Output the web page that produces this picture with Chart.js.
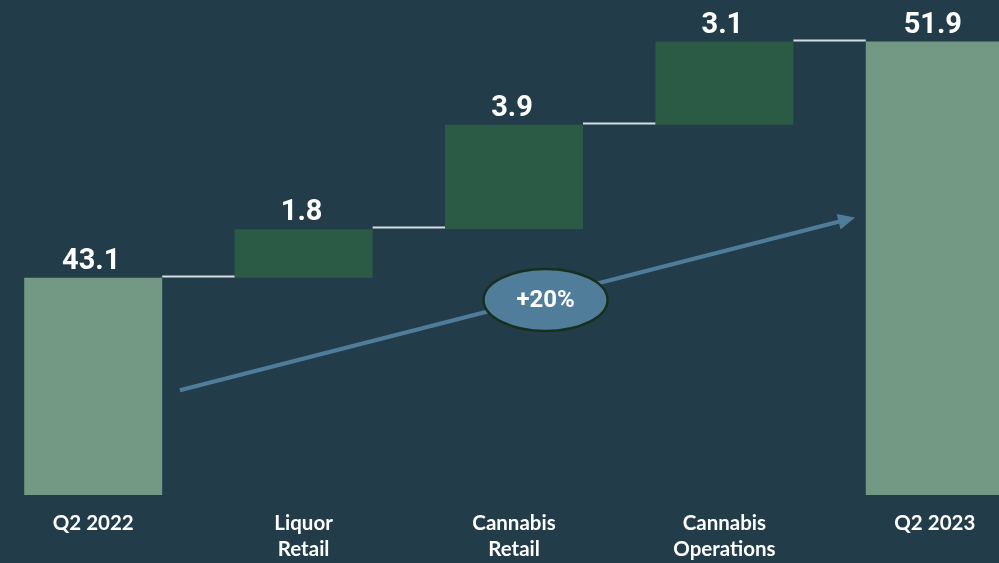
<!DOCTYPE html>
<html>
<head>
<meta charset="utf-8">
<script src="https://cdn.jsdelivr.net/npm/chart.js@4"></script>
<style>
  html, body { margin: 0; padding: 0; background: #233c4a; overflow: hidden; }
  #wrap { position: absolute; left: -12px; top: 0; width: 1052px; height: 577px; }
</style>
</head>
<body>
<div id="wrap"><canvas id="chart" width="1052" height="577"></canvas></div>
<script>
// Chart data
const categories = [['Q2 2022'], ['Liquor', 'Retail'], ['Cannabis', 'Retail'], ['Cannabis', 'Operations'], ['Q2 2023']];
const values = [43.1, 1.8, 3.9, 3.1, 51.9];
const isTotal = [true, false, false, false, true];
const valueLabels = ['43.1', '1.8', '3.9', '3.1', '51.9'];
const growthLabel = '+20%';
const axisMin = 35;
const axisMax = 53.45;

// build floating ranges for the waterfall
let running = 0;
const ranges = values.map((v, i) => {
    if (isTotal[i]) { running = v; return [axisMin, v]; }
    const r = [running, running + v];
    running += v;
    return r;
});

const TOTAL_COLOR = '#739884';
const STEP_COLOR = '#2b5a45';

const waterfallExtras = {
    id: 'waterfallExtras',
    afterDatasetsDraw(chart) {
        const ctx = chart.ctx;
        const x = chart.scales.x, y = chart.scales.y;
        const meta = chart.getDatasetMeta(0);

        // connector lines
        ctx.save();
        ctx.strokeStyle = '#d5dde0';
        ctx.lineWidth = 2;
        for (let i = 0; i < meta.data.length - 1; i++) {
            const a = meta.data[i], b = meta.data[i + 1];
            const py = Math.round(y.getPixelForValue(ranges[i][1])) - 1.5;
            ctx.beginPath();
            ctx.moveTo(a.x + a.width / 2, py);
            ctx.lineTo(b.x - b.width / 2, py);
            ctx.stroke();
        }
        ctx.restore();

        // value labels
        ctx.save();
        ctx.fillStyle = '#ffffff';
        ctx.font = 'bold 29px Roboto, "Liberation Sans", sans-serif';
        ctx.textAlign = 'center';
        ctx.textBaseline = 'alphabetic';
        meta.data.forEach((bar, i) => {
            const py = y.getPixelForValue(ranges[i][1]);
            ctx.fillText(valueLabels[i], bar.x - 2, py - 9);
        });
        ctx.restore();

        // growth arrow
        const x0 = x.getPixelForValue(0.412), y0 = y.getPixelForValue(38.9);
        const x1 = x.getPixelForValue(3.621), y1 = y.getPixelForValue(45.34);
        const ang = Math.atan2(y1 - y0, x1 - x0);
        ctx.save();
        ctx.strokeStyle = '#4f7c99';
        ctx.fillStyle = '#4f7c99';
        ctx.lineWidth = 4;
        ctx.beginPath();
        ctx.moveTo(x0, y0);
        ctx.lineTo(x1 - 12 * Math.cos(ang), y1 - 12 * Math.sin(ang));
        ctx.stroke();
        ctx.beginPath();
        ctx.moveTo(x1, y1);
        ctx.lineTo(x1 - 17 * Math.cos(ang) + 8 * Math.sin(ang), y1 - 17 * Math.sin(ang) - 8 * Math.cos(ang));
        ctx.lineTo(x1 - 17 * Math.cos(ang) - 8 * Math.sin(ang), y1 - 17 * Math.sin(ang) + 8 * Math.cos(ang));
        ctx.closePath();
        ctx.fill();

        // ellipse badge
        const cx = x.getPixelForValue(2.15), cy = y.getPixelForValue(42.27);
        ctx.beginPath();
        ctx.ellipse(cx, cy, 62, 31, 0, 0, Math.PI * 2);
        ctx.fillStyle = '#4f7d9a';
        ctx.fill();
        ctx.lineWidth = 2.5;
        ctx.strokeStyle = '#16301f';
        ctx.stroke();
        ctx.fillStyle = '#ffffff';
        ctx.font = 'bold 24px Roboto, "Liberation Sans", sans-serif';
        ctx.textAlign = 'center';
        ctx.textBaseline = 'middle';
        ctx.fillText(growthLabel, cx, cy + 1);
        ctx.restore();
    }
};

new Chart(document.getElementById('chart'), {
    type: 'bar',
    data: {
        labels: categories,
        datasets: [{
            data: ranges,
            backgroundColor: isTotal.map(t => t ? TOTAL_COLOR : STEP_COLOR),
            borderWidth: 0,
            barPercentage: 0.656,
            categoryPercentage: 1
        }]
    },
    options: {
        responsive: false,
        animation: false,
        layout: { padding: 0 },
        plugins: { legend: { display: false }, tooltip: { enabled: false } },
        scales: {
            y: { display: false, min: axisMin, max: axisMax },
            x: {
                grid: { display: false, drawTicks: false },
                border: { display: false },
                ticks: {
                    color: '#ffffff',
                    font: { family: 'Lato, "Open Sans", sans-serif', weight: 'bold', size: 20.5, lineHeight: 1.27 },
                    padding: 15,
                    maxRotation: 0,
                    autoSkip: false
                }
            }
        }
    },
    plugins: [waterfallExtras]
});
</script>
</body>
</html>
